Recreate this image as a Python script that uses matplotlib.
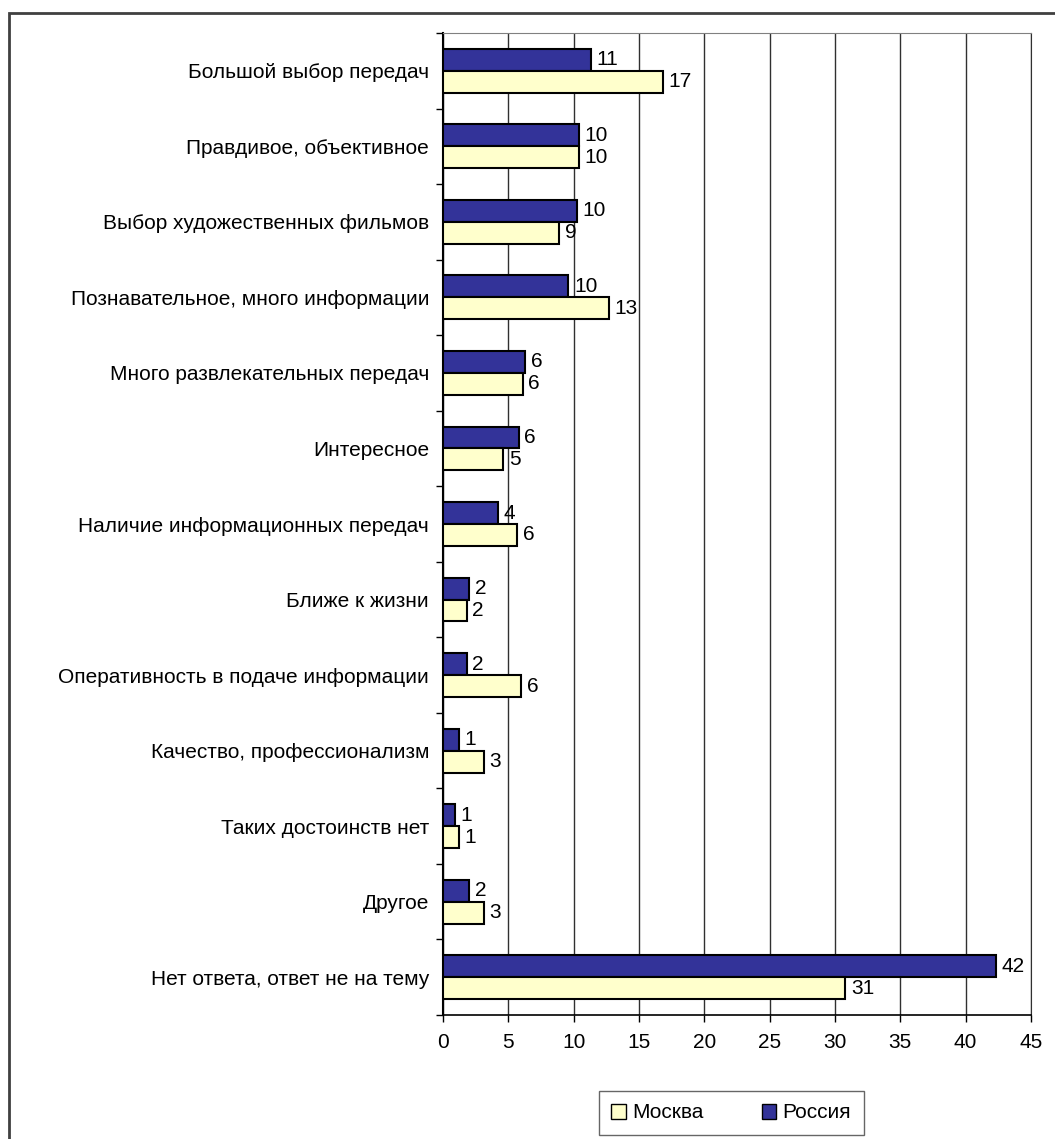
import matplotlib
matplotlib.use("Agg")
import matplotlib.pyplot as plt
from matplotlib.patches import Rectangle, Patch
import numpy as np

plt.rcParams['font.family'] = ['Liberation Sans', 'DejaVu Sans']

categories = ["Большой выбор передач", "Правдивое, объективное", "Выбор художественных фильмов",
              "Познавательное, много информации", "Много развлекательных передач", "Интересное",
              "Наличие информационных передач", "Ближе к жизни", "Оперативность в подаче информации",
              "Качество, профессионализм", "Таких достоинств нет", "Другое",
              "Нет ответа, ответ не на тему"]
russia = [11.3, 10.4, 10.25, 9.6, 6.3, 5.8, 4.2, 2.0, 1.8, 1.2, 0.9, 2.0, 42.3]
moscow = [16.8, 10.4, 8.9, 12.7, 6.1, 4.6, 5.7, 1.8, 6.0, 3.1, 1.2, 3.1, 30.8]
x_ticks = [0, 5, 10, 15, 20, 25, 30, 35, 40, 45]

col_russia = "#333399"
col_moscow = "#FFFFCC"
fs = 15

W, H = 1055, 1139
fig = plt.figure(figsize=(W / 100, H / 100), dpi=100)
ax = fig.add_axes([443 / W, 1 - 1015 / H, (1031 - 443) / W, (1015 - 33) / H])

# outer frame of the chart (cut at right and bottom)
fig.patches.append(Rectangle((9 / W, -0.05), 1.2, 1 - 13 / H + 0.05, transform=fig.transFigure,
                             fill=False, edgecolor="#404040", linewidth=2))

y = np.arange(len(categories))
h = 0.29
ax.barh(y - h / 2, russia, height=h, color=col_russia, edgecolor="black", linewidth=1.5, zorder=3)
ax.barh(y + h / 2, moscow, height=h, color=col_moscow, edgecolor="black", linewidth=1.5, zorder=3)

for i in range(len(categories)):
    ax.annotate(str(int(russia[i] + 0.5)), (russia[i], y[i] - h / 2), xytext=(4, 0),
                textcoords="offset points", va="center", ha="left", fontsize=fs, zorder=4)
    ax.annotate(str(int(moscow[i] + 0.5)), (moscow[i], y[i] + h / 2), xytext=(4, 0),
                textcoords="offset points", va="center", ha="left", fontsize=fs, zorder=4)

ax.set_xlim(0, 45)
ax.set_ylim(len(categories) - 0.5, -0.5)
ax.set_xticks(x_ticks)
ax.set_xticklabels([str(t) for t in x_ticks], fontsize=fs)
ax.tick_params(axis="x", direction="out", length=5, width=1, pad=8)
ax.set_yticks(y)
ax.set_yticklabels(categories, fontsize=fs)
ax.set_yticks(np.arange(-0.5, len(categories)), minor=True)
ax.tick_params(axis="y", which="major", length=0, pad=10)
ax.tick_params(axis="y", which="minor", direction="out", length=5, width=1)

ax.grid(axis="x", color="#303030", linewidth=1, zorder=0)
ax.spines["top"].set_color("#808080")
ax.spines["right"].set_color("#303030")
ax.spines["left"].set_linewidth(1.5)
ax.spines["bottom"].set_linewidth(1.2)

handles = [Patch(facecolor=col_moscow, edgecolor="black", label="Москва"),
           Patch(facecolor=col_russia, edgecolor="black", label="Россия")]
leg = fig.legend(handles=handles, ncol=2, loc="center", bbox_to_anchor=(731 / W, 1 - 1113 / H),
                 fontsize=fs, frameon=True, fancybox=False, edgecolor="#404040",
                 handlelength=0.7, handleheight=0.7, columnspacing=2.8, borderpad=0.6,
                 handletextpad=0.3)
leg.get_frame().set_linewidth(1)

fig.savefig("out.png", dpi=100)
